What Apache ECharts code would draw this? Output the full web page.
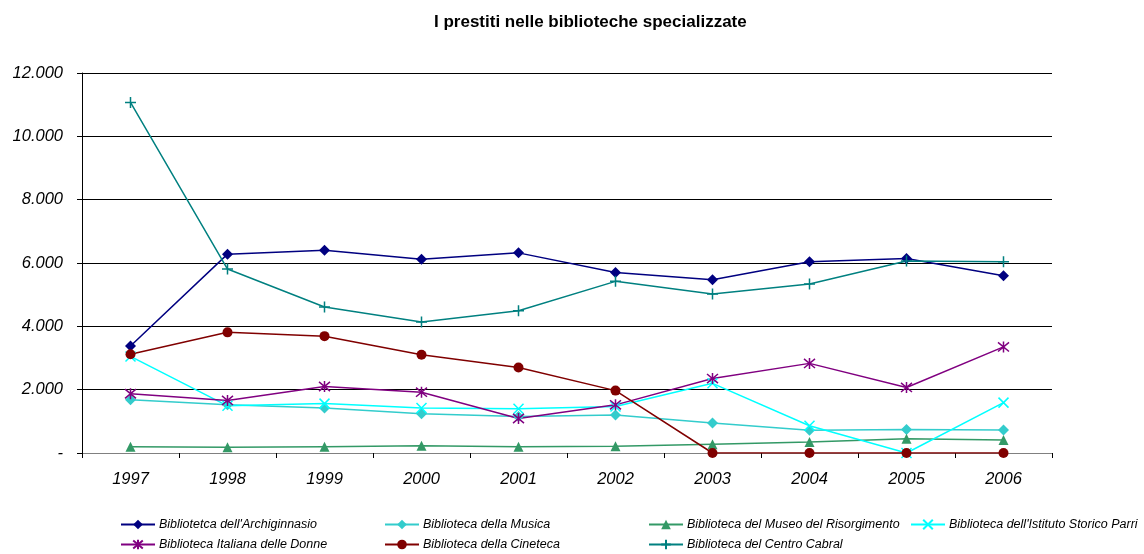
<!DOCTYPE html>
<html style="height: 100%">
<head>
    <meta charset="utf-8">
    <script type="text/javascript" src="https://cdn.jsdelivr.net/npm/echarts@6/dist/echarts.min.js"></script>
</head>
<body style="height: 100%; margin: 0; background: #fff">
<div id="container" style="width: 1144px; height: 554px"></div>
<script type="text/javascript">
    var years = ['1997', '1998', '1999', '2000', '2001', '2002', '2003', '2004', '2005', '2006'];
    var yTicks = [0, 2000, 4000, 6000, 8000, 10000, 12000];

    var archiginnasio = [3380, 6280, 6400, 6120, 6320, 5700, 5470, 6040, 6140, 5600];
    var musica        = [1680, 1520, 1420, 1240, 1150, 1200, 950, 720, 740, 730];
    var risorgimento  = [200, 180, 200, 230, 200, 210, 280, 350, 450, 410];
    var parri         = [3050, 1490, 1560, 1420, 1400, 1470, 2200, 860, 0, 1590];
    var donne         = [1870, 1660, 2100, 1920, 1090, 1520, 2350, 2830, 2070, 3350];
    var cineteca      = [3120, 3810, 3690, 3100, 2700, 1970, 0, 0, 0, 0];
    var cabral        = [11070, 5810, 4610, 4140, 4490, 5420, 5020, 5340, 6060, 6040];

    var names = {
        arch: "Bibliotetca dell'Archiginnasio",
        mus: 'Biblioteca della Musica',
        ris: 'Biblioteca del Museo del Risorgimento',
        par: "Biblioteca dell'Istituto Storico Parri",
        don: 'Biblioteca Italiana delle Donne',
        cin: 'Biblioteca della Cineteca',
        cab: 'Biblioteca del Centro Cabral'
    };

    // simboli "a tratto" (asterisco, croce, più)
    var starPath = 'path://M0,0L10,10M10,0L0,10M5,-1L5,11';
    var crossPath = 'path://M0,0L10,10M10,0L0,10';
    var plusPath = 'path://M5,0L5,10M0,5L10,5';

    function serie(name, data, color, symbol, size, stroke) {
        return {
            type: 'line',
            name: name,
            data: data,
            symbol: symbol,
            symbolSize: size,
            showAllSymbol: true,
            animation: false,
            lineStyle: {color: color, width: 1.5},
            itemStyle: stroke ? {color: color, borderColor: color, borderWidth: 1.5} : {color: color}
        };
    }

    function legenda(left, data) {
        return {
            orient: 'vertical',
            left: left,
            top: 518,
            height: 40,
            padding: 0,
            itemWidth: 34,
            itemHeight: 12,
            itemGap: 7,
            data: data,
            textStyle: {fontFamily: 'Liberation Sans', fontStyle: 'italic', fontSize: 12.5, color: '#000', padding: [0, 0, 0, -1]}
        };
    }

    var chart = echarts.init(document.getElementById('container'), null, {renderer: 'canvas'});
    chart.setOption({
        animation: false,
        title: {
            text: 'I prestiti nelle biblioteche specializzate',
            left: 429,
            top: 9,
            textStyle: {fontFamily: 'Liberation Sans', fontWeight: 'bold', fontSize: 17, color: '#000'}
        },
        legend: [
            legenda(120, [names.arch, names.don]),
            legenda(384, [names.mus, names.cin]),
            legenda(648, [names.ris, names.cab]),
            legenda(910, [names.par])
        ],
        grid: {left: 82, right: 92, top: 73, bottom: 101},
        xAxis: {
            type: 'category',
            data: years,
            boundaryGap: true,
            axisLine: {lineStyle: {color: '#808080', width: 1}},
            axisTick: {show: true, length: 5, lineStyle: {color: '#000'}},
            axisLabel: {fontFamily: 'Liberation Sans', fontStyle: 'italic', fontSize: 16.5, color: '#000', margin: 18}
        },
        yAxis: {
            type: 'value',
            min: yTicks[0],
            max: yTicks[yTicks.length - 1],
            interval: 2000,
            axisLine: {show: true, lineStyle: {color: '#000', width: 1}},
            axisTick: {show: true, length: 5, lineStyle: {color: '#000'}},
            splitLine: {lineStyle: {color: '#000', width: 1}},
            axisLabel: {
                fontFamily: 'Liberation Sans', fontStyle: 'italic', fontSize: 16.5, color: '#000', margin: 19,
                formatter: function (v) { return v === 0 ? '-' : (v / 1000).toFixed(3); }
            }
        },
        series: [
            serie(names.arch, archiginnasio, '#000080', 'diamond', 11, false),
            serie(names.mus, musica, '#33CCCC', 'diamond', 11, false),
            serie(names.ris, risorgimento, '#339966', 'triangle', 10, false),
            serie(names.par, parri, '#00FFFF', crossPath, 10, true),
            serie(names.don, donne, '#800080', starPath, 11, true),
            serie(names.cin, cineteca, '#800000', 'circle', 10, false),
            serie(names.cab, cabral, '#008080', plusPath, 11, true)
        ]
    });
</script>
</body>
</html>
